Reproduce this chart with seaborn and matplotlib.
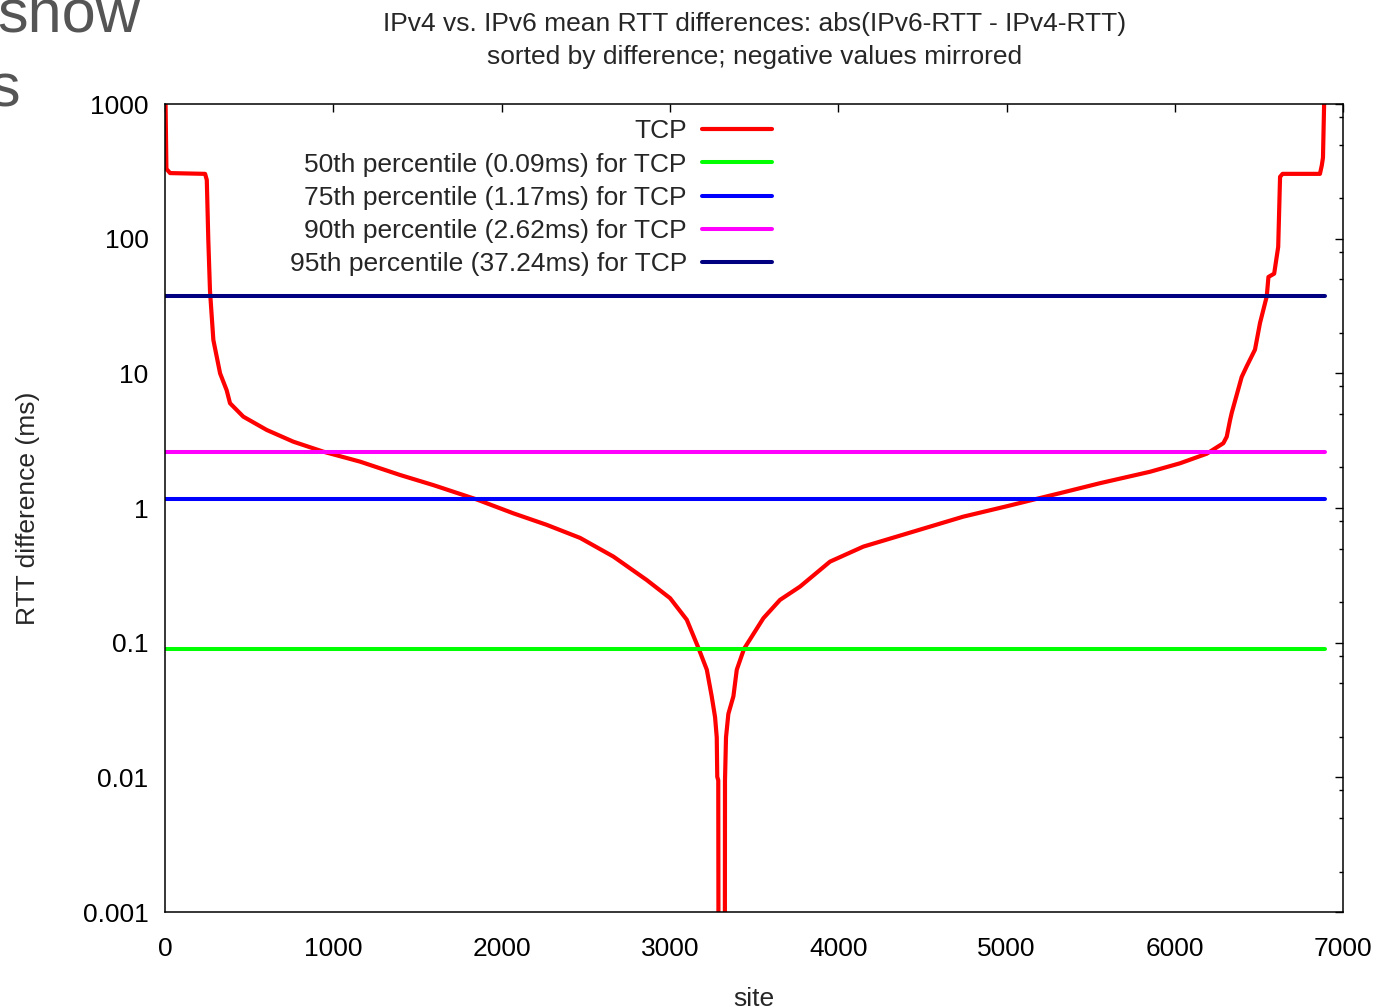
import pandas as pd
import seaborn as sns
import matplotlib.pyplot as plt
from matplotlib.ticker import LogLocator, MultipleLocator, FuncFormatter, NullFormatter

# sorted |IPv6 RTT - IPv4 RTT| per site
site = [0, 8, 30, 238, 248, 257, 267, 287, 327, 366, 386, 465, 604, 762, 941,
        1159, 1396, 1594, 1850, 2069, 2268, 2466, 2664, 2862, 3001, 3100, 3169,
        3219, 3248, 3268, 3278, 3281, 3287, 3290, 3325, 3327, 3333, 3347, 3377,
        3397, 3440, 3555, 3654, 3773, 3951, 4149, 4446, 4743, 5000, 5179, 5318,
        5556, 5853, 6031, 6189, 6288, 6308, 6328, 6338, 6397, 6427, 6476, 6506,
        6546, 6556, 6590, 6614, 6625, 6640, 6862, 6873, 6880, 6892]
rtt_diff = [2000, 330, 307, 303, 273, 98, 41, 17.7, 10.0, 7.5, 6.0, 4.77, 3.8,
            3.11, 2.62, 2.21, 1.76, 1.48, 1.16, 0.914, 0.75, 0.60, 0.436, 0.292,
            0.214, 0.148, 0.0915, 0.063, 0.04, 0.028, 0.0198, 0.0101, 0.0095,
            1e-5, 1e-5, 0.0095, 0.0198, 0.0296, 0.04, 0.063, 0.09, 0.152, 0.208,
            0.261, 0.40, 0.517, 0.668, 0.863, 1.03, 1.17, 1.29, 1.53, 1.86, 2.15,
            2.53, 3.03, 3.38, 4.5, 5.1, 9.4, 11.3, 15, 23.7, 37.3, 52, 55, 87,
            288, 303, 303, 350, 400, 2000]
n_sites = 6892

pct_names = ["50th", "75th", "90th", "95th"]
pct_values = [0.09, 1.17, 2.62, 37.24]
pct_colors = ["#00ff00", "#0000ff", "#ff00ff", "#000080"]

FS = 19

sns.set_style("white")
plt.rcParams['font.family'] = ['Liberation Sans', 'DejaVu Sans']

fig = plt.figure(figsize=(13.87, 10.07), dpi=100)
ax = fig.add_axes([0.119, 0.0943, 0.8494, 0.8024])
ax.set_yscale("log")

df = pd.DataFrame({"site": site, "diff": rtt_diff})
sns.lineplot(data=df, x="site", y="diff", color="red", lw=3.0, sort=False,
             estimator=None, ax=ax, label="TCP")
for name, val, col in zip(pct_names, pct_values, pct_colors):
    sns.lineplot(x=[0, n_sites], y=[val, val], color=col, lw=2.9, ax=ax,
                 label=f"{name} percentile ({val:.2f}ms) for TCP")

ax.set_xlim(0, 7000)
ax.set_ylim(0.001, 1000)
ax.xaxis.set_major_locator(MultipleLocator(1000))
ax.yaxis.set_major_locator(LogLocator(base=10))
ax.yaxis.set_minor_locator(LogLocator(base=10, subs=[2, 5, 8]))
ax.yaxis.set_major_formatter(FuncFormatter(lambda v, p: f"{v:g}"))
ax.yaxis.set_minor_formatter(NullFormatter())

ax.tick_params(which="both", direction="in", top=True, right=True,
               colors="black", width=1, labelsize=FS)
ax.tick_params(which="major", length=5.8)
ax.tick_params(which="minor", length=2.9)
ax.tick_params(axis="x", pad=18)
ax.tick_params(axis="y", pad=12)
for sp in ax.spines.values():
    sp.set_color("black")
    sp.set_linewidth(1.1)

ax.set_xlabel("site", fontsize=FS, labelpad=19)
ax.set_ylabel("RTT difference (ms)", fontsize=FS, labelpad=31)
ax.set_title("IPv4 vs. IPv6 mean RTT differences: abs(IPv6-RTT - IPv4-RTT)\n"
             "sorted by difference; negative values mirrored",
             fontsize=FS, pad=29, linespacing=1.47)

ax.legend(loc="upper right", bbox_to_anchor=(0.5150, 0.981), markerfirst=False,
          frameon=False, fontsize=FS, handlelength=2.65, handletextpad=0.57,
          labelspacing=0.35, borderaxespad=0, borderpad=0)

# leftovers of the slide this chart was cut from
fig.text(-0.002, 0.969, "show", fontsize=44, color="#555555", va="baseline")
fig.text(-0.008, 0.894, "s", fontsize=44, color="#555555", va="baseline")

fig.savefig("out.png", dpi=100)
